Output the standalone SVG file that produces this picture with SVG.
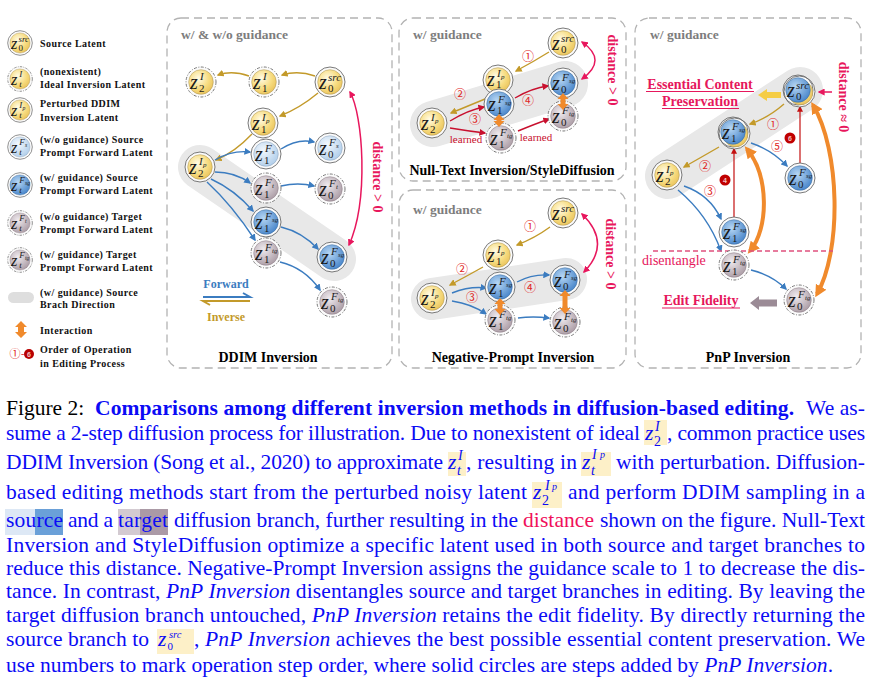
<svg xmlns="http://www.w3.org/2000/svg" width="875" height="680" viewBox="0 0 875 680">
<style>
.pan{fill:none;stroke:#b3b3b3;stroke-width:1.3;stroke-dasharray:8 5}
.band{stroke:#e8e8e8;stroke-linecap:round;fill:none}
.ro{fill:#fbfbfb;stroke:#6a6a6a;stroke-width:0.9}
.rd{fill:#fbfbfb;stroke:#6a6a6a;stroke-width:0.9;stroke-dasharray:3 1.5 1 1.5}
.fy{fill:url(#gy);stroke:#a89050;stroke-width:0.5}
.fl{fill:url(#gl);stroke:#8aa0b8;stroke-width:0.5}
.fb{fill:url(#gb);stroke:#3a6a9a;stroke-width:0.5}
.fg{fill:url(#gg);stroke:#8a7a84;stroke-width:0.5}
.lab{font-family:"Liberation Serif",serif;fill:#1a1a1a}
.z{font-style:italic;font-size:20px}
.sp{font-style:italic;font-size:11px}
.sb{font-size:11px}
.ss{font-style:italic;font-size:7px}
.ag{fill:none;stroke:#c39a2a;stroke-width:1.4}
.ab{fill:none;stroke:#3b7cc0;stroke-width:1.4}
.ar{fill:none;stroke:#c8102e;stroke-width:1.4}
.am{fill:none;stroke:#e8175d;stroke-width:1.5}
.ao{fill:none;stroke:#f08a2c;stroke-width:4}
.ia{fill:#f08a2c}
.gt{font-family:"Liberation Serif",serif;font-weight:bold;font-size:13.5px;fill:#7d7d7d}
.tt{font-family:"Liberation Serif",serif;font-weight:bold;font-size:14px;fill:#000;text-anchor:middle}
.lg{font-family:"Liberation Serif",serif;font-weight:bold;font-size:10px;letter-spacing:0.45px;fill:#111}
.dist{font-family:"Liberation Serif",serif;font-weight:bold;font-size:14px;fill:#e8175d;text-anchor:middle;dominant-baseline:central}
.num{font-family:"Noto Sans CJK SC","DejaVu Sans",sans-serif;font-size:12px;fill:#e02424;text-anchor:middle}
.mg{font-family:"Liberation Serif",serif;font-weight:bold;font-size:14px;fill:#e6175c;text-anchor:middle}
.cap{font-family:"Liberation Serif",serif;font-size:21.5px;fill:#0b0bf5}
.ci{font-family:"Liberation Serif",serif;font-style:italic;fill:#0b0bf5}
.cu{font-family:"Liberation Serif",serif;fill:#0b0bf5}
.hl{fill:#fdf0c8}
</style>
<defs>
<radialGradient id="gy" cx="0.4" cy="0.35" r="0.7"><stop offset="0" stop-color="#fffbe6"/><stop offset="0.6" stop-color="#f7dc80"/><stop offset="1" stop-color="#e9c25a"/></radialGradient>
<radialGradient id="gl" cx="0.4" cy="0.35" r="0.7"><stop offset="0" stop-color="#f3f8fd"/><stop offset="1" stop-color="#afcdea"/></radialGradient>
<radialGradient id="gb" cx="0.4" cy="0.35" r="0.7"><stop offset="0" stop-color="#b6d6f3"/><stop offset="1" stop-color="#4583c9"/></radialGradient>
<radialGradient id="gg" cx="0.4" cy="0.35" r="0.7"><stop offset="0" stop-color="#efeaee"/><stop offset="1" stop-color="#aa9ba4"/></radialGradient>
<marker id="mg" viewBox="0 0 10 10" refX="8" refY="5" markerWidth="7" markerHeight="7" markerUnits="userSpaceOnUse" orient="auto-start-reverse"><path d="M0,0 L10,5 L0,10 z" fill="#c39a2a"/></marker>
<marker id="mb" viewBox="0 0 10 10" refX="8" refY="5" markerWidth="7" markerHeight="7" markerUnits="userSpaceOnUse" orient="auto-start-reverse"><path d="M0,0 L10,5 L0,10 z" fill="#3b7cc0"/></marker>
<marker id="mr" viewBox="0 0 10 10" refX="8" refY="5" markerWidth="7" markerHeight="7" markerUnits="userSpaceOnUse" orient="auto-start-reverse"><path d="M0,0 L10,5 L0,10 z" fill="#c8102e"/></marker>
<marker id="mm" viewBox="0 0 10 10" refX="8" refY="5" markerWidth="7" markerHeight="7" markerUnits="userSpaceOnUse" orient="auto-start-reverse"><path d="M0,0 L10,5 L0,10 z" fill="#e8175d"/></marker>
<marker id="mo" viewBox="0 0 10 10" refX="7" refY="5" markerWidth="12" markerHeight="12" markerUnits="userSpaceOnUse" orient="auto-start-reverse"><path d="M0,0 L10,5 L0,10 z" fill="#f08a2c"/></marker>
<marker id="mk" viewBox="0 0 10 10" refX="8" refY="5" markerWidth="6" markerHeight="6" markerUnits="userSpaceOnUse" orient="auto-start-reverse"><path d="M0,0 L10,5 L0,10 z" fill="#c41010"/></marker>
</defs>
<rect width="875" height="680" fill="#fff"/>

<!-- Legend -->
<g id="legend">
<g id="leg-src" transform="translate(20,43) scale(0.82)"><circle r="15" class="ro"/><circle r="12.3" class="fy"/><text class="lab"><tspan class="z" x="-11" y="7">z</tspan><tspan class="sp" x="-2" y="-1">src</tspan><tspan class="sb" x="-2" y="10">0</tspan></text></g>
<g id="leg-ideal" transform="translate(20,79) scale(0.82)"><circle r="15" class="rd"/><circle r="12.3" class="fy"/><text class="lab"><tspan class="z" x="-11" y="7">z</tspan><tspan class="sp" x="-1" y="-2">I</tspan><tspan class="sp" x="-1" y="10">t</tspan></text></g>
<g id="leg-pert" transform="translate(20,110) scale(0.82)"><circle r="15" class="ro"/><circle r="12.3" class="fy"/><text class="lab"><tspan class="z" x="-11" y="7">z</tspan><tspan class="sp" x="-1" y="-2">I</tspan><tspan class="ss" x="3" y="0">p</tspan><tspan class="sp" x="-1" y="10">t</tspan></text></g>
<g id="leg-fs" transform="translate(20,147) scale(0.82)"><circle r="15" class="ro"/><circle r="12.3" class="fl"/><text class="lab"><tspan class="z" x="-11" y="7">z</tspan><tspan class="sp" x="-1" y="-2">F</tspan><tspan class="ss" x="6" y="0">s</tspan><tspan class="sp" x="-1" y="10">t</tspan></text></g>
<g id="leg-fsg" transform="translate(20,185) scale(0.82)"><circle r="15" class="ro"/><circle r="12.3" class="fb"/><text class="lab"><tspan class="z" x="-11" y="7">z</tspan><tspan class="sp" x="-1" y="-2">F</tspan><tspan class="ss" x="6" y="0">sg</tspan><tspan class="sp" x="-1" y="10">t</tspan></text></g>
<g id="leg-ft" transform="translate(20,223) scale(0.82)"><circle r="15" class="rd"/><circle r="12.3" class="fg"/><text class="lab"><tspan class="z" x="-11" y="7">z</tspan><tspan class="sp" x="-1" y="-2">F</tspan><tspan class="ss" x="6" y="0">t</tspan><tspan class="sp" x="-1" y="10">t</tspan></text></g>
<g id="leg-ftg" transform="translate(20,260) scale(0.82)"><circle r="15" class="rd"/><circle r="12.3" class="fg"/><text class="lab"><tspan class="z" x="-11" y="7">z</tspan><tspan class="sp" x="-1" y="-2">F</tspan><tspan class="ss" x="6" y="0">tg</tspan><tspan class="sp" x="-1" y="10">t</tspan></text></g>
<rect x="8" y="292" width="26" height="11" rx="5.5" fill="#dedede"/>
<polygon class="ia" points="21,321 27,327 24,327 24,332 27,332 21,338 15,332 18,332 18,327 15,327"/>
<text class="num" x="15" y="358" style="font-size:11px">①</text>
<text x="21" y="357" style="font-family:'Liberation Serif',serif;font-size:10px;fill:#e02424">-</text>
<circle cx="29" cy="354" r="5" fill="#b80000"/>
<text x="29" y="356.5" text-anchor="middle" style="font-family:'Liberation Sans',sans-serif;font-size:7px;font-weight:bold;fill:#f4c0c0">6</text>
<text class="lg" x="40" y="47">Source Latent</text>
<text class="lg" x="40" y="75">(nonexistent)</text>
<text class="lg" x="40" y="88">Ideal Inversion Latent</text>
<text class="lg" x="40" y="107">Perturbed DDIM</text>
<text class="lg" x="40" y="121">Inversion Latent</text>
<text class="lg" x="40" y="143">(w/o guidance) Source</text>
<text class="lg" x="40" y="156">Prompt Forward Latent</text>
<text class="lg" x="40" y="181">(w/ guidance) Source</text>
<text class="lg" x="40" y="194">Prompt Forward Latent</text>
<text class="lg" x="40" y="220">(w/o guidance) Target</text>
<text class="lg" x="40" y="233">Prompt Forward Latent</text>
<text class="lg" x="40" y="258">(w/ guidance) Target</text>
<text class="lg" x="40" y="271">Prompt Forward Latent</text>
<text class="lg" x="40" y="296">(w/ guidance) Source</text>
<text class="lg" x="40" y="308">Brach Direction</text>
<text class="lg" x="40" y="334">Interaction</text>
<text class="lg" x="40" y="353">Order of Operation</text>
<text class="lg" x="40" y="367">in Editing Process</text>
</g>

<!-- Panels -->
<g id="panels">
<rect class="pan" x="167" y="18" width="225" height="350" rx="14"/>
<rect class="pan" x="399" y="18" width="227" height="163" rx="14"/>
<rect class="pan" x="399" y="190" width="227" height="178" rx="14"/>
<rect class="pan" x="635" y="18" width="226" height="350" rx="14"/>
<text class="gt" x="181" y="39">w/ &amp; w/o guidance</text>
<text class="gt" x="413" y="39">w/ guidance</text>
<text class="gt" x="413" y="214">w/ guidance</text>
<text class="gt" x="650" y="39">w/ guidance</text>
<text class="tt" x="268" y="362">DDIM Inversion</text>
<text class="tt" x="512" y="175">Null-Text Inversion/StyleDiffusion</text>
<text class="tt" x="513" y="362">Negative-Prompt Inversion</text>
<text class="tt" x="748" y="362">PnP Inversion</text>
<line class="band" x1="200" y1="167" x2="334" y2="259" stroke-width="44"/>
<line class="band" x1="433" y1="124" x2="565" y2="84" stroke-width="46"/>
<line class="band" x1="432" y1="299" x2="566" y2="279" stroke-width="42"/>
<line class="band" x1="668" y1="176" x2="800" y2="90" stroke-width="46"/>
</g>

<!-- Connectors -->
<g id="connectors">
<!-- DDIM -->
<path class="ag" d="M315,76 Q298,70 282,75" marker-end="url(#mg)"/>
<path class="ag" d="M249,76 Q232,70 218,75" marker-end="url(#mg)"/>
<path class="ag" d="M318,93 Q300,108 280,116" marker-end="url(#mg)"/>
<path class="ag" d="M252,134 Q235,152 216,160" marker-end="url(#mg)"/>
<path class="ab" d="M215,160 Q232,150 250,152" marker-end="url(#mb)"/>
<path class="ab" d="M281,149 Q298,138 314,142" marker-end="url(#mb)"/>
<path class="ab" d="M215,172 Q235,172 250,183" marker-end="url(#mb)"/>
<path class="ab" d="M281,186 Q298,182 314,186" marker-end="url(#mb)"/>
<path class="ab" d="M211,179 Q235,190 253,211" marker-end="url(#mb)"/>
<path class="ab" d="M207,182 Q232,205 255,240" marker-end="url(#mb)"/>
<path class="ab" d="M281,227 Q302,232 318,249" marker-end="url(#mb)"/>
<path class="ab" d="M280,262 Q305,268 320,290" marker-end="url(#mb)"/>
<path class="am" d="M350,92 C363,115 369,200 349,245" marker-start="url(#mm)" marker-end="url(#mm)"/>
<path d="M203,297 H250 L243,293" fill="none" stroke="#3b7cc0" stroke-width="2"/>
<path d="M250,301 H203 L210,305" fill="none" stroke="#c39a2a" stroke-width="2"/>
<!-- Null-text -->
<path class="ag" d="M549,52 Q533,62 516,71" marker-end="url(#mg)"/>
<path class="ag" d="M485,99 Q468,106 451,113" marker-end="url(#mg)"/>
<path class="ar" d="M450,121 Q468,110 484,107" marker-end="url(#mr)"/>
<path class="ar" d="M450,128 Q468,131 485,133" marker-end="url(#mr)"/>
<path class="ar" d="M515,98 Q532,88 548,86" marker-end="url(#mr)"/>
<path class="ar" d="M518,131 Q535,124 549,119" marker-end="url(#mr)"/>
<path class="am" d="M582,42 Q608,60 582,79" marker-start="url(#mm)" marker-end="url(#mm)"/>
<!-- Negative -->
<path class="ag" d="M550,227 Q535,238 517,245" marker-end="url(#mg)"/>
<path class="ag" d="M483,267 Q467,276 450,285" marker-end="url(#mg)"/>
<path class="ab" d="M452,293 Q470,286 486,288" marker-end="url(#mb)"/>
<path class="ab" d="M452,301 Q472,304 486,314" marker-end="url(#mb)"/>
<path class="ab" d="M517,282 Q532,274 549,275" marker-end="url(#mb)"/>
<path class="ab" d="M518,318 Q533,316 549,318" marker-end="url(#mb)"/>
<path class="am" d="M582,214 Q612,243 584,272" marker-start="url(#mm)" marker-end="url(#mm)"/>
<!-- PnP -->
<path class="ag" d="M784,104 Q768,118 750,124" marker-end="url(#mg)"/>
<path class="ag" d="M719,147 Q700,158 684,167" marker-end="url(#mg)"/>
<path class="ab" d="M751,143 Q772,150 787,166" marker-end="url(#mb)"/>
<path class="ab" d="M684,186 Q710,195 721,219" marker-end="url(#mb)"/>
<path class="ab" d="M678,190 Q708,215 721,251" marker-end="url(#mb)"/>
<path class="ab" d="M751,270 Q772,275 786,289" marker-end="url(#mb)"/>
<line x1="734" y1="217" x2="734" y2="149" stroke="#c41010" stroke-width="1.2" marker-end="url(#mk)"/>
<line x1="800" y1="163" x2="800" y2="107" stroke="#c41010" stroke-width="1.2" marker-end="url(#mk)"/>
<path class="ao" d="M747,149 C769,176 769,228 750,251" marker-start="url(#mo)" marker-end="url(#mo)"/>
<path class="ao" d="M813,105 C840,150 842,250 817,294" marker-start="url(#mo)" marker-end="url(#mo)"/>
<path class="am" d="M832,92 H819" marker-end="url(#mm)"/>
<line x1="653" y1="251" x2="833" y2="251" stroke="#e0507e" stroke-width="1.3" stroke-dasharray="5 3"/>
<polygon points="758,95 767,89 767,92 781,92 781,98 767,98 767,101" fill="#f5cd45"/>
<polygon points="750,303 759,296 759,299.5 777,299.5 777,306.5 759,306.5 759,310" fill="#9b8b96"/>
</g>

<!-- DDIM nodes -->
<g id="ddim-z2I" transform="translate(201,82)"><circle r="15" class="rd"/><circle r="12.3" class="fy"/><text class="lab"><tspan class="z" x="-11" y="7">z</tspan><tspan class="sp" x="-1" y="-2">I</tspan><tspan class="sb" x="-2" y="10">2</tspan></text></g>
<g id="ddim-z1I" transform="translate(264,82)"><circle r="15" class="rd"/><circle r="12.3" class="fy"/><text class="lab"><tspan class="z" x="-11" y="7">z</tspan><tspan class="sp" x="-1" y="-2">I</tspan><tspan class="sb" x="-2" y="10">1</tspan></text></g>
<g id="ddim-z0src" transform="translate(330,82)"><circle r="15" class="ro"/><circle r="12.3" class="fy"/><text class="lab"><tspan class="z" x="-11" y="7">z</tspan><tspan class="sp" x="-2" y="-1">src</tspan><tspan class="sb" x="-2" y="10">0</tspan></text></g>
<g id="ddim-z1Ip" transform="translate(263,123)"><circle r="15" class="ro"/><circle r="12.3" class="fy"/><text class="lab"><tspan class="z" x="-11" y="7">z</tspan><tspan class="sp" x="-1" y="-2">I</tspan><tspan class="ss" x="3" y="0">p</tspan><tspan class="sb" x="-2" y="10">1</tspan></text></g>
<g id="ddim-z2Ip" transform="translate(200,167)"><circle r="15" class="ro"/><circle r="12.3" class="fy"/><text class="lab"><tspan class="z" x="-11" y="7">z</tspan><tspan class="sp" x="-1" y="-2">I</tspan><tspan class="ss" x="3" y="0">p</tspan><tspan class="sb" x="-2" y="10">2</tspan></text></g>
<g id="ddim-z1Fs" transform="translate(266,154)"><circle r="15" class="ro"/><circle r="12.3" class="fl"/><text class="lab"><tspan class="z" x="-11" y="7">z</tspan><tspan class="sp" x="-1" y="-2">F</tspan><tspan class="ss" x="6" y="0">s</tspan><tspan class="sb" x="-2" y="10">1</tspan></text></g>
<g id="ddim-z0Fs" transform="translate(330,148)"><circle r="15" class="ro"/><circle r="12.3" class="fl"/><text class="lab"><tspan class="z" x="-11" y="7">z</tspan><tspan class="sp" x="-1" y="-2">F</tspan><tspan class="ss" x="6" y="0">s</tspan><tspan class="sb" x="-2" y="10">0</tspan></text></g>
<g id="ddim-z1Ft" transform="translate(266,188)"><circle r="15" class="rd"/><circle r="12.3" class="fg"/><text class="lab"><tspan class="z" x="-11" y="7">z</tspan><tspan class="sp" x="-1" y="-2">F</tspan><tspan class="ss" x="6" y="0">t</tspan><tspan class="sb" x="-2" y="10">1</tspan></text></g>
<g id="ddim-z0Ft" transform="translate(330,189)"><circle r="15" class="rd"/><circle r="12.3" class="fg"/><text class="lab"><tspan class="z" x="-11" y="7">z</tspan><tspan class="sp" x="-1" y="-2">F</tspan><tspan class="ss" x="6" y="0">t</tspan><tspan class="sb" x="-2" y="10">0</tspan></text></g>
<g id="ddim-z1Fsg" transform="translate(266,222)"><circle r="15" class="ro"/><circle r="12.3" class="fb"/><text class="lab"><tspan class="z" x="-11" y="7">z</tspan><tspan class="sp" x="-1" y="-2">F</tspan><tspan class="ss" x="6" y="0">sg</tspan><tspan class="sb" x="-2" y="10">1</tspan></text></g>
<g id="ddim-z1Ftg" transform="translate(266,253)"><circle r="15" class="rd"/><circle r="12.3" class="fg"/><text class="lab"><tspan class="z" x="-11" y="7">z</tspan><tspan class="sp" x="-1" y="-2">F</tspan><tspan class="ss" x="6" y="0">tg</tspan><tspan class="sb" x="-2" y="10">1</tspan></text></g>
<g id="ddim-z0Fsg" transform="translate(332,257)"><circle r="15" class="ro"/><circle r="12.3" class="fb"/><text class="lab"><tspan class="z" x="-11" y="7">z</tspan><tspan class="sp" x="-1" y="-2">F</tspan><tspan class="ss" x="6" y="0">sg</tspan><tspan class="sb" x="-2" y="10">0</tspan></text></g>
<g id="ddim-z0Ftg" transform="translate(332,302)"><circle r="15" class="rd"/><circle r="12.3" class="fg"/><text class="lab"><tspan class="z" x="-11" y="7">z</tspan><tspan class="sp" x="-1" y="-2">F</tspan><tspan class="ss" x="6" y="0">tg</tspan><tspan class="sb" x="-2" y="10">0</tspan></text></g>
<g id="ddim-labels">
<text class="dist" x="377" y="177" transform="rotate(90 377 177)">distance &gt; 0</text>
<text x="226" y="288" text-anchor="middle" style="font-family:'Liberation Serif',serif;font-weight:bold;font-size:12px;fill:#3b7cc0">Forward</text>
<text x="226" y="321" text-anchor="middle" style="font-family:'Liberation Serif',serif;font-weight:bold;font-size:12px;fill:#c39a2a">Inverse</text>
</g>

<!-- Null-text nodes -->
<g id="nt-z0src" transform="translate(563,43)"><circle r="15" class="ro"/><circle r="12.3" class="fy"/><text class="lab"><tspan class="z" x="-11" y="7">z</tspan><tspan class="sp" x="-2" y="-1">src</tspan><tspan class="sb" x="-2" y="10">0</tspan></text></g>
<g id="nt-z1Ip" transform="translate(498,80)"><circle r="15" class="ro"/><circle r="12.3" class="fy"/><text class="lab"><tspan class="z" x="-11" y="6">z</tspan><tspan class="sp" x="-1" y="-3">I</tspan><tspan class="ss" x="3" y="-1">p</tspan><tspan class="sb" x="-2" y="8">1</tspan></text></g>
<g id="nt-z1Fsg" transform="translate(499,104)"><circle r="15" class="ro"/><circle r="12.3" class="fb"/><text class="lab"><tspan class="z" x="-11" y="7">z</tspan><tspan class="sp" x="-1" y="-1">F</tspan><tspan class="ss" x="6" y="1">sg</tspan><tspan class="sb" x="-2" y="10">1</tspan></text></g>
<g id="nt-z0Fsg" transform="translate(563,83)"><circle r="15" class="ro"/><circle r="12.3" class="fb"/><text class="lab"><tspan class="z" x="-11" y="7">z</tspan><tspan class="sp" x="-1" y="-2">F</tspan><tspan class="ss" x="6" y="0">sg</tspan><tspan class="sb" x="-2" y="10">0</tspan></text></g>
<g id="nt-z0Ftg" transform="translate(563,116)"><circle r="15" class="rd"/><circle r="12.3" class="fg"/><text class="lab"><tspan class="z" x="-11" y="7">z</tspan><tspan class="sp" x="-1" y="-2">F</tspan><tspan class="ss" x="6" y="0">tg</tspan><tspan class="sb" x="-2" y="10">0</tspan></text></g>
<g id="nt-z2Ip" transform="translate(432,123)"><circle r="15" class="ro"/><circle r="12.3" class="fy"/><text class="lab"><tspan class="z" x="-11" y="7">z</tspan><tspan class="sp" x="-1" y="-2">I</tspan><tspan class="ss" x="3" y="0">p</tspan><tspan class="sb" x="-2" y="10">2</tspan></text></g>
<g id="nt-z1Ftg" transform="translate(501,138)"><circle r="15" class="rd"/><circle r="12.3" class="fg"/><text class="lab"><tspan class="z" x="-11" y="7">z</tspan><tspan class="sp" x="-1" y="-2">F</tspan><tspan class="ss" x="6" y="0">tg</tspan><tspan class="sb" x="-2" y="10">1</tspan></text></g>
<g id="nt-labels">
<polygon class="ia" points="499,114 504.5,120 501.5,120 501.5,121 504.5,121 499,127 493.5,121 496.5,121 496.5,120 493.5,120"/>
<polygon class="ia" points="563,93 568.5,99 565.5,99 565.5,104 568.5,104 563,110 557.5,104 560.5,104 560.5,99 557.5,99"/>
<text class="num" x="528" y="61">①</text>
<text class="num" x="460" y="99">②</text>
<text class="num" x="475" y="124">③</text>
<text class="num" x="528" y="105">④</text>
<text x="466" y="143" text-anchor="middle" style="font-family:'Liberation Serif',serif;font-size:11px;fill:#c8102e">learned</text>
<text x="536" y="141" text-anchor="middle" style="font-family:'Liberation Serif',serif;font-size:11px;fill:#c8102e">learned</text>
<text class="dist" x="612" y="70" transform="rotate(90 612 70)">distance &gt; 0</text>
</g>

<!-- Negative-prompt nodes -->
<g id="np-z0src" transform="translate(563,213)"><circle r="15" class="ro"/><circle r="12.3" class="fy"/><text class="lab"><tspan class="z" x="-11" y="7">z</tspan><tspan class="sp" x="-2" y="-1">src</tspan><tspan class="sb" x="-2" y="10">0</tspan></text></g>
<g id="np-z1Ip" transform="translate(498,255)"><circle r="15" class="ro"/><circle r="12.3" class="fy"/><text class="lab"><tspan class="z" x="-11" y="7">z</tspan><tspan class="sp" x="-1" y="-2">I</tspan><tspan class="ss" x="3" y="0">p</tspan><tspan class="sb" x="-2" y="10">1</tspan></text></g>
<g id="np-z2Ip" transform="translate(432,298)"><circle r="15" class="ro"/><circle r="12.3" class="fy"/><text class="lab"><tspan class="z" x="-11" y="7">z</tspan><tspan class="sp" x="-1" y="-2">I</tspan><tspan class="ss" x="3" y="0">p</tspan><tspan class="sb" x="-2" y="10">2</tspan></text></g>
<g id="np-z1Fsg" transform="translate(500,287)"><circle r="15" class="ro"/><circle r="12.3" class="fb"/><text class="lab"><tspan class="z" x="-11" y="7">z</tspan><tspan class="sp" x="-1" y="-2">F</tspan><tspan class="ss" x="6" y="0">sg</tspan><tspan class="sb" x="-2" y="10">1</tspan></text></g>
<g id="np-z0Fsg" transform="translate(565,280)"><circle r="15" class="ro"/><circle r="12.3" class="fb"/><text class="lab"><tspan class="z" x="-11" y="7">z</tspan><tspan class="sp" x="-1" y="-2">F</tspan><tspan class="ss" x="6" y="0">sg</tspan><tspan class="sb" x="-2" y="10">0</tspan></text></g>
<g id="np-z1Ftg" transform="translate(500,320)"><circle r="15" class="rd"/><circle r="12.3" class="fg"/><text class="lab"><tspan class="z" x="-11" y="7">z</tspan><tspan class="sp" x="-1" y="-2">F</tspan><tspan class="ss" x="6" y="0">tg</tspan><tspan class="sb" x="-2" y="10">1</tspan></text></g>
<g id="np-z0Ftg" transform="translate(565,322)"><circle r="15" class="rd"/><circle r="12.3" class="fg"/><text class="lab"><tspan class="z" x="-11" y="7">z</tspan><tspan class="sp" x="-1" y="-2">F</tspan><tspan class="ss" x="6" y="0">tg</tspan><tspan class="sb" x="-2" y="10">0</tspan></text></g>
<g id="np-labels">
<polygon class="ia" points="500,298 505.5,304 502.5,304 502.5,309 505.5,309 500,315 494.5,309 497.5,309 497.5,304 494.5,304"/>
<polygon class="ia" points="565,290 570.5,296 567.5,296 567.5,308 570.5,308 565,314 559.5,308 562.5,308 562.5,296 559.5,296"/>
<text class="num" x="530" y="231">①</text>
<text class="num" x="462" y="274">②</text>
<text class="num" x="472" y="302">③</text>
<text class="num" x="530" y="292">④</text>
<text class="dist" x="610" y="254" transform="rotate(90 610 254)">distance &gt; 0</text>
</g>

<!-- PnP nodes -->
<g id="pnp-z0src" transform="translate(798,90)"><circle cx="1.5" cy="1.5" r="15.5" class="ro"/><circle r="15" fill="none" stroke="#6a6a6a" stroke-width="0.9"/><circle cx="2.5" cy="2.5" r="12.3" class="fy"/><circle r="12.3" class="fb"/><text class="lab"><tspan class="z" x="-11" y="7">z</tspan><tspan class="sp" x="-2" y="-1">src</tspan><tspan class="sb" x="-2" y="10">0</tspan></text></g>
<g id="pnp-z1Fsg-up" transform="translate(733,132)"><circle cx="1.5" cy="1.5" r="15.5" class="ro"/><circle r="15" fill="none" stroke="#6a6a6a" stroke-width="0.9"/><circle cx="2.5" cy="2.5" r="12.3" class="fy"/><circle r="12.3" class="fb"/><text class="lab"><tspan class="z" x="-11" y="7">z</tspan><tspan class="sp" x="-1" y="-2">F</tspan><tspan class="ss" x="6" y="0">sg</tspan><tspan class="sb" x="-2" y="10">1</tspan></text></g>
<g id="pnp-z2Ip" transform="translate(667,175)"><circle r="15" class="ro"/><circle r="12.3" class="fy"/><text class="lab"><tspan class="z" x="-11" y="7">z</tspan><tspan class="sp" x="-1" y="-2">I</tspan><tspan class="ss" x="3" y="0">p</tspan><tspan class="sb" x="-2" y="10">2</tspan></text></g>
<g id="pnp-z0Fsg" transform="translate(800,178)"><circle r="15" class="ro"/><circle r="12.3" class="fb"/><text class="lab"><tspan class="z" x="-11" y="7">z</tspan><tspan class="sp" x="-1" y="-2">F</tspan><tspan class="ss" x="6" y="0">sg</tspan><tspan class="sb" x="-2" y="10">0</tspan></text></g>
<g id="pnp-z1Fsg-low" transform="translate(734,232)"><circle r="15" class="ro"/><circle r="12.3" class="fb"/><text class="lab"><tspan class="z" x="-11" y="7">z</tspan><tspan class="sp" x="-1" y="-2">F</tspan><tspan class="ss" x="6" y="0">sg</tspan><tspan class="sb" x="-2" y="10">1</tspan></text></g>
<g id="pnp-z1Ftg" transform="translate(734,265)"><circle r="15" class="rd"/><circle r="12.3" class="fg"/><text class="lab"><tspan class="z" x="-11" y="7">z</tspan><tspan class="sp" x="-1" y="-2">F</tspan><tspan class="ss" x="6" y="0">tg</tspan><tspan class="sb" x="-2" y="10">1</tspan></text></g>
<g id="pnp-z0Ftg" transform="translate(799,300)"><circle r="15" class="rd"/><circle r="12.3" class="fg"/><text class="lab"><tspan class="z" x="-11" y="7">z</tspan><tspan class="sp" x="-1" y="-2">F</tspan><tspan class="ss" x="6" y="0">tg</tspan><tspan class="sb" x="-2" y="10">0</tspan></text></g>
<g id="pnp-labels">
<text class="num" x="773" y="129">①</text>
<text class="num" x="777" y="151">⑤</text>
<text class="num" x="705" y="171">②</text>
<text class="num" x="710" y="196">③</text>
<circle cx="790" cy="138" r="5.5" fill="#c00000"/>
<text x="790" y="140.5" text-anchor="middle" style="font-family:'Liberation Sans',sans-serif;font-size:7px;font-weight:bold;fill:#f4c0c0">6</text>
<circle cx="725" cy="180" r="5.5" fill="#c00000"/>
<text x="725" y="182.5" text-anchor="middle" style="font-family:'Liberation Sans',sans-serif;font-size:7px;font-weight:bold;fill:#f4c0c0">4</text>
<text class="mg" x="700" y="89">Essential Content</text>
<line x1="646" y1="91.5" x2="754" y2="91.5" stroke="#e6175c" stroke-width="1.2"/>
<text class="mg" x="700" y="106">Preservation</text>
<line x1="662" y1="108.5" x2="739" y2="108.5" stroke="#e6175c" stroke-width="1.2"/>
<text class="dist" x="843" y="97" transform="rotate(90 843 97)">distance ≈ 0</text>
<text x="642" y="265" style="font-family:'Liberation Serif',serif;font-size:14px;fill:#e6175c">disentangle</text>
<text class="mg" x="701" y="305">Edit Fidelity</text>
<line x1="662" y1="308" x2="740" y2="308" stroke="#e6175c" stroke-width="1.2"/>
</g>

<!-- Caption -->
<g id="caption">
<rect class="hl" x="644" y="420" width="23" height="25"/>
<rect class="hl" x="448" y="452" width="18" height="24"/>
<rect class="hl" x="581" y="452" width="30" height="24"/>
<rect class="hl" x="532" y="482" width="30" height="26"/>
<rect class="hl" x="157" y="629" width="37" height="25"/>
<rect x="5" y="509" width="30" height="26" fill="#dde8f5"/>
<rect x="35" y="509" width="28" height="26" fill="#6aa0d8"/>
<rect x="118" y="509" width="22" height="26" fill="#d3cad1"/>
<rect x="140" y="509" width="28" height="26" fill="#ab9aa6"/>

<text class="cap" x="6" y="415" style="fill:#000">Figure 2:</text>
<text class="cap" x="95" y="415" font-weight="bold" textLength="699" lengthAdjust="spacing">Comparisons among different inversion methods in diffusion-based editing.</text>
<text class="cap" x="806" y="415" textLength="59" lengthAdjust="spacing">We as-</text>

<text class="cap" x="6" y="440" textLength="634" lengthAdjust="spacing">sume a 2-step diffusion process for illustration. Due to nonexistent of ideal</text>
<text class="ci" x="645" y="440" font-size="21.5">z</text><text class="ci" x="655" y="431" font-size="14">I</text><text class="cu" x="654" y="446" font-size="14">2</text>
<text class="cap" x="667" y="440" textLength="198" lengthAdjust="spacing">, common practice uses</text>

<text class="cap" x="6" y="469" textLength="437" lengthAdjust="spacing">DDIM Inversion (Song et al., 2020) to approximate</text>
<text class="ci" x="448" y="469" font-size="21.5">z</text><text class="ci" x="458" y="460" font-size="14">I</text><text class="ci" x="457" y="475" font-size="14">t</text>
<text class="cap" x="466" y="469" textLength="111" lengthAdjust="spacing">, resulting in</text>
<text class="ci" x="582" y="469" font-size="21.5">z</text><text class="ci" x="592" y="459" font-size="14">I</text><text class="ci" x="600" y="458" font-size="10">p</text><text class="ci" x="591" y="475" font-size="14">t</text>
<text class="cap" x="616" y="469" textLength="249" lengthAdjust="spacing">with perturbation. Diffusion-</text>

<text class="cap" x="6" y="499" textLength="521" lengthAdjust="spacing">based editing methods start from the perturbed noisy latent</text>
<text class="ci" x="533" y="499" font-size="21.5">z</text><text class="ci" x="545" y="490" font-size="14">I</text><text class="ci" x="552" y="490" font-size="10">p</text><text class="cu" x="542" y="505" font-size="14">2</text>
<text class="cap" x="568" y="499" textLength="297" lengthAdjust="spacing">and perform DDIM sampling in a</text>

<text class="cap" x="6" y="527" textLength="57" lengthAdjust="spacing">source</text>
<text class="cap" x="68" y="527" textLength="45" lengthAdjust="spacing">and a</text>
<text class="cap" x="118" y="527" textLength="50" lengthAdjust="spacing">target</text>
<text class="cap" x="174" y="527" textLength="344" lengthAdjust="spacing">diffusion branch, further resulting in the</text>
<text class="cap" x="523" y="527" textLength="71" lengthAdjust="spacing" style="fill:#f0105a">distance</text>
<text class="cap" x="600" y="527" textLength="265" lengthAdjust="spacing">shown on the figure. Null-Text</text>

<text class="cap" x="6" y="552" textLength="859" lengthAdjust="spacing">Inversion and StyleDiffusion optimize a specific latent used in both source and target branches to</text>
<text class="cap" x="6" y="575" textLength="859" lengthAdjust="spacing">reduce this distance. Negative-Prompt Inversion assigns the guidance scale to 1 to decrease the dis-</text>
<text class="cap" x="6" y="598" textLength="859" lengthAdjust="spacing">tance. In contrast, <tspan font-style="italic">PnP Inversion</tspan> disentangles source and target branches in editing. By leaving the</text>
<text class="cap" x="6" y="622" textLength="859" lengthAdjust="spacing">target diffusion branch untouched, <tspan font-style="italic">PnP Inversion</tspan> retains the edit fidelity. By directly returning the</text>
<text class="cap" x="6" y="646" textLength="143" lengthAdjust="spacing">source branch to</text>
<text class="ci" x="158" y="646" font-size="21.5">z</text><text class="ci" x="169" y="637.5" font-size="10.5">src</text><text class="cu" x="167.5" y="650" font-size="11">0</text>
<text class="cap" x="194" y="646" textLength="671" lengthAdjust="spacing">, <tspan font-style="italic">PnP Inversion</tspan> achieves the best possible essential content preservation. We</text>
<text class="cap" x="6" y="672" textLength="827" lengthAdjust="spacing">use numbers to mark operation step order, where solid circles are steps added by <tspan font-style="italic">PnP Inversion</tspan>.</text>
</g>
</svg>
